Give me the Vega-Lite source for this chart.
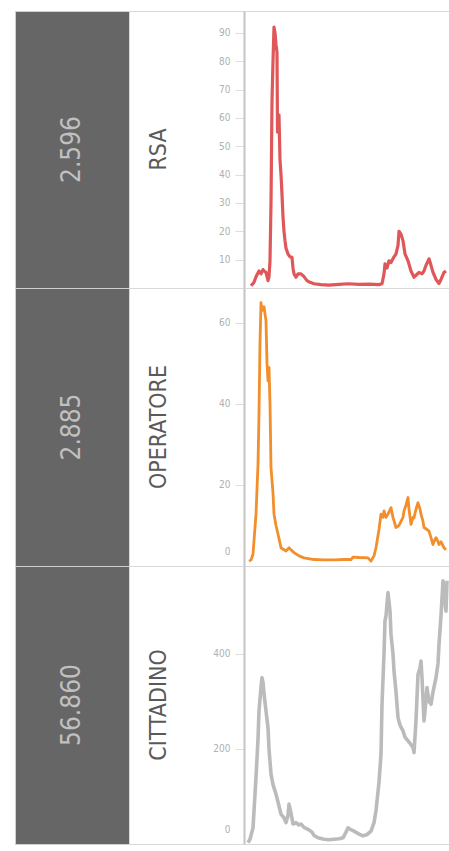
{
  "$schema": "https://vega.github.io/schema/vega-lite/v6.json",
  "padding": {"left": 14, "top": 10, "right": 0, "bottom": 0},
  "bounds": "flush",
  "spacing": 0,
  "columns": 3,
  "background": "white",
  "config": {
    "view": {"stroke": "#d9d9d9", "strokeWidth": 1},
    "concat": {"spacing": 0},
    "axis": {
      "labelFont": "DejaVu Sans Condensed",
      "labelFontSize": 10,
      "labelColor": "#b0b0b0",
      "tickColor": "#dddddd",
      "tickSize": 9,
      "labelPadding": 5,
      "domainColor": "#c4c4c4",
      "domainWidth": 2,
      "grid": false,
      "title": null,
      "labelFlush": true,
      "labelFlushOffset": -10
    }
  },
  "datasets": {
    "rsa": [
      {"t":7,"v":0.8},{"t":10,"v":2},{"t":12,"v":4},{"t":15,"v":6},{"t":17,"v":5},{"t":19,"v":6.5},{"t":20,"v":6},{"t":22,"v":5.5},{"t":24,"v":2.6},{"t":25,"v":4},{"t":26,"v":9.6},{"t":27,"v":30},{"t":28,"v":66},{"t":29,"v":80},{"t":30,"v":92},{"t":31,"v":90},{"t":32,"v":86},{"t":33,"v":83},{"t":33.5,"v":55},{"t":34,"v":60},{"t":35,"v":61},{"t":36,"v":45},{"t":37,"v":40},{"t":38,"v":33},{"t":39,"v":25},{"t":40,"v":20},{"t":41,"v":16.7},{"t":42,"v":14},{"t":43,"v":13},{"t":44,"v":12},{"t":46,"v":11},{"t":48,"v":10.8},{"t":49,"v":7},{"t":50,"v":5},{"t":52,"v":3.8},{"t":54,"v":5},{"t":57,"v":5},{"t":60,"v":4},{"t":63,"v":2.6},{"t":66,"v":2},{"t":70,"v":1.5},{"t":77,"v":1.2},{"t":85,"v":1},{"t":95,"v":1.3},{"t":104,"v":1.5},{"t":115,"v":1.3},{"t":125,"v":1.4},{"t":135,"v":1.2},{"t":138,"v":1.5},{"t":140,"v":5},{"t":141,"v":8.5},{"t":143,"v":7},{"t":145,"v":9.6},{"t":147,"v":9},{"t":150,"v":11},{"t":152,"v":12},{"t":154,"v":15},{"t":155,"v":20},{"t":157,"v":19},{"t":159,"v":16.7},{"t":161,"v":12},{"t":164,"v":9.6},{"t":167,"v":6},{"t":170,"v":3.8},{"t":172,"v":4.5},{"t":175,"v":5.5},{"t":178,"v":5},{"t":180,"v":6},{"t":182,"v":8},{"t":185,"v":10.3},{"t":187,"v":8},{"t":189,"v":5.5},{"t":192,"v":3},{"t":195,"v":1.6},{"t":197,"v":3},{"t":200,"v":5.5},{"t":202,"v":6}
    ],
    "op": [
      {"t":5,"v":1.2},{"t":7,"v":1.5},{"t":9,"v":2.9},{"t":12,"v":12.8},{"t":14,"v":25},{"t":15,"v":37.5},{"t":16,"v":55},{"t":17,"v":65},{"t":18,"v":63},{"t":20,"v":64},{"t":22,"v":60.5},{"t":23,"v":50},{"t":24,"v":45.7},{"t":25,"v":49},{"t":26,"v":40},{"t":27,"v":24.3},{"t":29,"v":18},{"t":30,"v":12.8},{"t":32,"v":10},{"t":34,"v":7.9},{"t":37,"v":4.5},{"t":40,"v":4},{"t":42,"v":3.7},{"t":45,"v":4.5},{"t":47,"v":4},{"t":50,"v":3.3},{"t":55,"v":2.5},{"t":60,"v":2},{"t":70,"v":1.6},{"t":80,"v":1.5},{"t":90,"v":1.5},{"t":100,"v":1.6},{"t":107,"v":1.6},{"t":109,"v":2.2},{"t":115,"v":2.1},{"t":124,"v":2},{"t":127,"v":1.2},{"t":130,"v":2.5},{"t":132,"v":4.5},{"t":135,"v":9},{"t":137,"v":12.8},{"t":139,"v":12},{"t":140,"v":13.6},{"t":142,"v":12},{"t":144,"v":12.8},{"t":147,"v":14.4},{"t":149,"v":12},{"t":152,"v":9.5},{"t":155,"v":10},{"t":157,"v":11},{"t":159,"v":12},{"t":160,"v":13.6},{"t":162,"v":15},{"t":164,"v":16.9},{"t":165,"v":14},{"t":167,"v":10.3},{"t":169,"v":12},{"t":170,"v":11.9},{"t":172,"v":14},{"t":174,"v":15.6},{"t":176,"v":14},{"t":177,"v":12.8},{"t":179,"v":11},{"t":180,"v":9.5},{"t":183,"v":9},{"t":185,"v":8.6},{"t":187,"v":7},{"t":189,"v":5.3},{"t":190,"v":6},{"t":192,"v":7},{"t":194,"v":6},{"t":195,"v":5.3},{"t":197,"v":6},{"t":200,"v":4.5},{"t":202,"v":4}
    ],
    "cit": [
      {"t":4,"v":3},{"t":6,"v":10},{"t":9,"v":34},{"t":12,"v":140},{"t":14,"v":220},{"t":15,"v":280},{"t":17,"v":330},{"t":18,"v":350},{"t":19,"v":340},{"t":20,"v":316},{"t":22,"v":280},{"t":24,"v":245},{"t":25,"v":200},{"t":27,"v":147},{"t":29,"v":125},{"t":32,"v":105},{"t":35,"v":80},{"t":37,"v":63},{"t":40,"v":55},{"t":42,"v":45},{"t":44,"v":60},{"t":45,"v":84},{"t":47,"v":65},{"t":49,"v":42},{"t":52,"v":45},{"t":55,"v":40},{"t":57,"v":42},{"t":60,"v":35},{"t":64,"v":31},{"t":68,"v":25},{"t":70,"v":18},{"t":74,"v":13},{"t":80,"v":10},{"t":85,"v":9},{"t":90,"v":10},{"t":95,"v":11},{"t":99,"v":13},{"t":102,"v":25},{"t":104,"v":34},{"t":107,"v":30},{"t":110,"v":27},{"t":114,"v":22},{"t":119,"v":17},{"t":123,"v":20},{"t":127,"v":27},{"t":130,"v":45},{"t":132,"v":70},{"t":135,"v":130},{"t":137,"v":189},{"t":138,"v":294},{"t":140,"v":400},{"t":141,"v":470},{"t":142,"v":480},{"t":144,"v":529},{"t":145,"v":510},{"t":146,"v":490},{"t":147,"v":441},{"t":149,"v":400},{"t":150,"v":364},{"t":152,"v":320},{"t":154,"v":266},{"t":156,"v":250},{"t":159,"v":238},{"t":161,"v":225},{"t":164,"v":217},{"t":166,"v":212},{"t":169,"v":203},{"t":170,"v":192},{"t":172,"v":260},{"t":174,"v":357},{"t":176,"v":370},{"t":177,"v":385},{"t":178,"v":350},{"t":180,"v":259},{"t":181,"v":280},{"t":183,"v":329},{"t":185,"v":300},{"t":187,"v":294},{"t":189,"v":320},{"t":192,"v":350},{"t":194,"v":380},{"t":195,"v":420},{"t":197,"v":480},{"t":199,"v":554},{"t":200,"v":530},{"t":202,"v":490},{"t":203,"v":554}
    ]
  },
  "concat": [
    {
      "width": 114, "height": 277,
      "view": {"fill": "#666666", "stroke": "#cfcfcf"},
      "data": {"values": [{"n": "2.596"}]},
      "mark": {"type": "text", "angle": -90, "font": "DejaVu Sans Condensed", "fontSize": 26, "color": "#c0c0c0", "baseline": "middle", "align": "center"},
      "encoding": {"text": {"field": "n"}}
    },
    {
      "width": 115, "height": 277,
      "view": {"fill": "white", "stroke": "#d9d9d9"},
      "data": {"values": [{"c": "RSA"}]},
      "mark": {"type": "text", "angle": -90, "font": "DejaVu Sans Condensed", "fontSize": 23, "color": "#5a5a5a", "baseline": "middle", "align": "center", "dy": -28},
      "encoding": {"text": {"field": "c"}}
    },
    {
      "width": 206, "height": 277,
      "data": {"name": "rsa"},
      "mark": {"type": "line", "color": "#e05759", "strokeWidth": 3.2, "strokeJoin": "round"},
      "encoding": {
        "x": {"field": "t", "type": "quantitative", "scale": {"domain": [0, 206], "nice": false}, "axis": null},
        "y": {"field": "v", "type": "quantitative", "scale": {"domain": [0, 97.7], "nice": false}, "axis": {"values": [10,20,30,40,50,60,70,80,90]}}
      }
    },
    {
      "width": 114, "height": 278,
      "view": {"fill": "#666666", "stroke": "#cfcfcf"},
      "data": {"values": [{"n": "2.885"}]},
      "mark": {"type": "text", "angle": -90, "font": "DejaVu Sans Condensed", "fontSize": 26, "color": "#c0c0c0", "baseline": "middle", "align": "center"},
      "encoding": {"text": {"field": "n"}}
    },
    {
      "width": 115, "height": 278,
      "view": {"fill": "white", "stroke": "#d9d9d9"},
      "data": {"values": [{"c": "OPERATORE"}]},
      "mark": {"type": "text", "angle": -90, "font": "DejaVu Sans Condensed", "fontSize": 23, "color": "#5a5a5a", "baseline": "middle", "align": "center", "dy": -28},
      "encoding": {"text": {"field": "c"}}
    },
    {
      "width": 206, "height": 278,
      "data": {"name": "op"},
      "mark": {"type": "line", "color": "#f28e2b", "strokeWidth": 2.8, "strokeJoin": "round"},
      "encoding": {
        "x": {"field": "t", "type": "quantitative", "scale": {"domain": [0, 206], "nice": false}, "axis": null},
        "y": {"field": "v", "type": "quantitative", "scale": {"domain": [0, 68.6], "nice": false}, "axis": {"values": [0,20,40,60]}}
      }
    },
    {
      "width": 114, "height": 278,
      "view": {"fill": "#666666", "stroke": "#cfcfcf"},
      "data": {"values": [{"n": "56.860"}]},
      "mark": {"type": "text", "angle": -90, "font": "DejaVu Sans Condensed", "fontSize": 26, "color": "#c0c0c0", "baseline": "middle", "align": "center"},
      "encoding": {"text": {"field": "n"}}
    },
    {
      "width": 115, "height": 278,
      "view": {"fill": "white", "stroke": "#d9d9d9"},
      "data": {"values": [{"c": "CITTADINO"}]},
      "mark": {"type": "text", "angle": -90, "font": "DejaVu Sans Condensed", "fontSize": 23, "color": "#5a5a5a", "baseline": "middle", "align": "center", "dy": -28},
      "encoding": {"text": {"field": "c"}}
    },
    {
      "width": 206, "height": 278,
      "data": {"name": "cit"},
      "mark": {"type": "line", "color": "#bbbbbb", "strokeWidth": 3.6, "strokeJoin": "round"},
      "encoding": {
        "x": {"field": "t", "type": "quantitative", "scale": {"domain": [0, 206], "nice": false}, "axis": null},
        "y": {"field": "v", "type": "quantitative", "scale": {"domain": [0, 585], "nice": false}, "axis": {"values": [0,200,400]}}
      }
    }
  ]
}
